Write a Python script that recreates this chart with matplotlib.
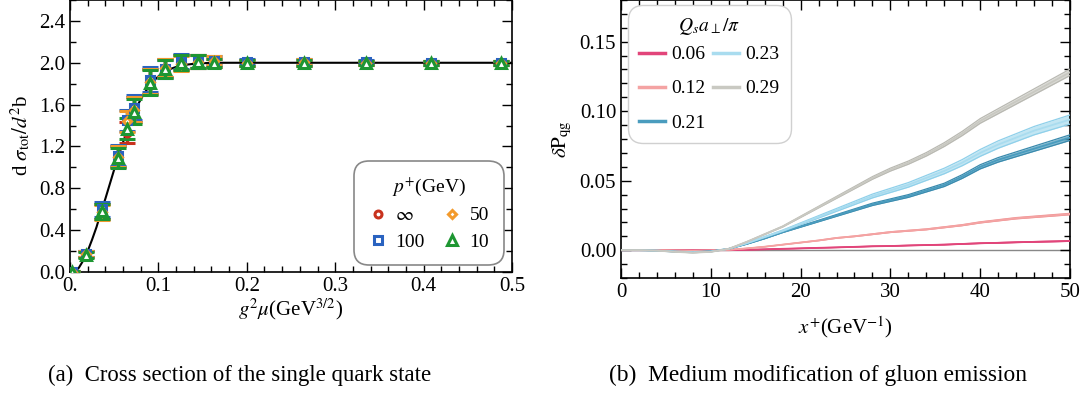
import numpy as np
import matplotlib
matplotlib.use("Agg")
import matplotlib.pyplot as plt
from matplotlib.ticker import MultipleLocator, FixedFormatter, FixedLocator

plt.rcParams["font.family"] = "serif"
plt.rcParams["font.serif"] = ["Liberation Serif", "DejaVu Serif"]
plt.rcParams["mathtext.fontset"] = "stix"
plt.rcParams["font.size"] = 15

# ---- panel (a): cross section vs g^2 mu ----
g2mu = [0.002, 0.018, 0.036, 0.054, 0.065, 0.072, 0.090, 0.108, 0.126, 0.145,
        0.163, 0.200, 0.265, 0.335, 0.408, 0.487]
sig_inf = [0.00, 0.17, 0.58, 1.10, 1.33, 1.55, 1.82, 1.95, 2.00, 2.01, 2.00, 2.00, 2.00, 2.00, 2.00, 2.00]
sig_100 = [0.00, 0.17, 0.60, 1.11, 1.45, 1.57, 1.84, 1.94, 2.01, 2.01, 2.02, 2.01, 2.01, 2.01, 2.00, 2.00]
sig_50 = [0.00, 0.17, 0.57, 1.10, 1.44, 1.55, 1.82, 1.95, 1.99, 2.01, 2.02, 2.00, 2.01, 2.00, 2.00, 2.00]
sig_10 = [0.00, 0.16, 0.58, 1.09, 1.37, 1.53, 1.81, 1.94, 2.00, 2.01, 2.00, 2.00, 2.00, 2.00, 2.00, 2.00]
sig_err = [0.01, 0.03, 0.07, 0.10, 0.10, 0.12, 0.12, 0.09, 0.07, 0.06, 0.04, 0.03, 0.03, 0.02, 0.02, 0.02]

curve_x = [0.005, 0.01, 0.015, 0.02, 0.025, 0.03, 0.035, 0.04, 0.045, 0.05, 0.055, 0.06,
           0.065, 0.07, 0.075, 0.08, 0.085, 0.09, 0.095, 0.10, 0.11, 0.12, 0.13, 0.14,
           0.15, 0.16, 0.18, 0.20, 0.30, 0.40, 0.50]
curve_y = [0.00, 0.04, 0.11, 0.20, 0.31, 0.43, 0.57, 0.70, 0.84, 0.98, 1.11, 1.24,
           1.36, 1.47, 1.57, 1.65, 1.72, 1.78, 1.83, 1.87, 1.93, 1.96, 1.98, 1.99,
           1.995, 2.00, 2.00, 2.00, 2.00, 2.00, 2.00]

p_labels = [r"$\infty$", "100", "50", "10"]
p_series = [sig_inf, sig_100, sig_50, sig_10]
p_colors = ["#c8321e", "#2a63c0", "#f39a2c", "#1e9632"]
p_markers = ["o", "s", "D", "^"]
p_msize = [5, 5.5, 4.5, 7]

# ---- panel (b): delta P_qg vs x+ ----
xplus = [0, 2, 4, 6, 8, 10, 12, 14, 16, 18, 20, 22, 24, 26, 28, 30, 32, 34, 36, 38,
         40, 42, 44, 46, 48, 50]
dp_006 = [0, 0, 0, 0, 0, 0, 0, 0.0003, 0.0006, 0.001, 0.0013, 0.0017, 0.002, 0.0024,
          0.0028, 0.003, 0.0034, 0.0037, 0.004, 0.0045, 0.005, 0.0053, 0.0057, 0.006,
          0.0063, 0.0066]
dp_012 = [0, 0, 0, -0.0002, -0.0003, -0.0002, 0.0003, 0.0013, 0.0025, 0.004, 0.0055,
          0.007, 0.0088, 0.010, 0.0115, 0.013, 0.014, 0.015, 0.0165, 0.018, 0.020,
          0.0215, 0.023, 0.024, 0.025, 0.026]
dp_021 = [0, 0, -0.0003, -0.001, -0.0013, -0.0008, 0.001, 0.0045, 0.0085, 0.013, 0.017,
          0.021, 0.025, 0.029, 0.033, 0.036, 0.039, 0.043, 0.047, 0.053, 0.060, 0.065,
          0.069, 0.073, 0.077, 0.081]
dp_023 = [0, 0, -0.0003, -0.001, -0.0015, -0.001, 0.001, 0.005, 0.0095, 0.014, 0.019,
          0.024, 0.029, 0.034, 0.039, 0.043, 0.047, 0.052, 0.057, 0.063, 0.070, 0.076,
          0.081, 0.086, 0.090, 0.094]
dp_029 = [0, 0, -0.0003, -0.0012, -0.0018, -0.0012, 0.001, 0.006, 0.0115, 0.017, 0.024,
          0.031, 0.038, 0.045, 0.052, 0.058, 0.063, 0.069, 0.076, 0.084, 0.093, 0.100,
          0.107, 0.114, 0.121, 0.128]

q_labels = ["0.06", "0.12", "0.21", "0.23", "0.29"]
q_series = [dp_006, dp_012, dp_021, dp_023, dp_029]
q_colors = ["#e2457a", "#f4a3a3", "#4a9cbe", "#a9dcef", "#c9c9c2"]
q_edge = ["#d83a70", "#ef9494", "#3a8aad", "#8fd0ea", "#b9b9b2"]
q_spread = [0.03, 0.02, 0.025, 0.035, 0.018]

fig = plt.figure(figsize=(10.89, 3.94), dpi=100)
ax1 = fig.add_axes([70 / 1089, 1 - 272 / 394, 442 / 1089, 272 / 394])
ax2 = fig.add_axes([621 / 1089, 1 - 278 / 394, 449 / 1089, 278 / 394])

ax1.plot(curve_x, curve_y, color="black", lw=1.5, zorder=2)
for lab, ys, c, m, ms in zip(p_labels, p_series, p_colors, p_markers, p_msize):
    ax1.errorbar(g2mu, ys, yerr=sig_err, fmt=m, color=c, ms=ms, mfc="white", mec=c,
                 mew=2.2, elinewidth=2.5, capsize=6, capthick=2.5, label=lab, zorder=3)

ax1.set_xlim(0, 0.5)
ax1.set_ylim(0, 2.6)
ax1.xaxis.set_major_locator(FixedLocator([0, 0.1, 0.2, 0.3, 0.4, 0.5]))
ax1.xaxis.set_major_formatter(FixedFormatter(["0.", "0.1", "0.2", "0.3", "0.4", "0.5"]))
ax1.xaxis.set_minor_locator(MultipleLocator(0.02))
ax1.yaxis.set_major_locator(MultipleLocator(0.4))
ax1.yaxis.set_major_formatter(plt.FormatStrFormatter("%.1f"))
ax1.yaxis.set_minor_locator(MultipleLocator(0.2))
ax1.set_xlabel(r"$g^2\mu$(GeV$^{3/2}$)", fontsize=15, labelpad=0)
ax1.set_ylabel(r"d $\sigma_{\rm tot}/d^2$b", fontsize=15)

h, l = ax1.get_legend_handles_labels()
leg1 = ax1.legend([hh[0] for hh in h], l, ncol=2, title=r"$p^{+}$(GeV)",
                  loc="lower right", bbox_to_anchor=(0.99, 0.01), handletextpad=0.4,
                  columnspacing=0.9, borderpad=0.45, labelspacing=0.45, handlelength=1.0,
                  fontsize=14, title_fontsize=14, framealpha=1, edgecolor="#888888")
leg1.get_frame().set_linewidth(1.2)
leg1.get_frame().set_boxstyle("round,pad=0.3,rounding_size=0.8")

# panel b
ax2.axhline(0, color="#888888", lw=1.0, zorder=1)
for lab, ys, c, ec, s in zip(q_labels, q_series, q_colors, q_edge, q_spread):
    ys = np.array(ys)
    lo = ys * (1 - s)
    hi = ys * (1 + s)
    ax2.fill_between(xplus, lo, hi, color=c, lw=0, alpha=0.7, zorder=2)
    ax2.plot(xplus, lo, color=ec, lw=0.9, zorder=3)
    ax2.plot(xplus, hi, color=ec, lw=0.9, zorder=3)
    ax2.plot(xplus, ys, color=c, lw=1.3, label=lab, zorder=3)

ax2.set_xlim(0, 50)
ax2.set_ylim(-0.02, 0.18)
ax2.xaxis.set_major_locator(MultipleLocator(10))
ax2.xaxis.set_minor_locator(MultipleLocator(2))
ax2.yaxis.set_major_locator(FixedLocator([0, 0.05, 0.10, 0.15]))
ax2.yaxis.set_major_formatter(plt.FormatStrFormatter("%.2f"))
ax2.yaxis.set_minor_locator(MultipleLocator(0.01))
ax2.set_xlabel(r"$x^{+}$(GeV$^{-1}$)", fontsize=15, labelpad=9)
ax2.set_ylabel(r"$\delta\mathrm{P}_{\mathrm{qg}}$", fontsize=15)

handles = [plt.Line2D([], [], color=c, lw=2.5) for c in q_colors]
leg2 = ax2.legend(handles, q_labels, ncol=2, title=r"$Q_s a_{\perp}/\pi$",
                  loc="upper left", bbox_to_anchor=(0.006, 0.997), handlelength=1.3,
                  handletextpad=0.35, columnspacing=0.4, borderpad=0.3, labelspacing=0.85,
                  fontsize=14, title_fontsize=14, framealpha=1, edgecolor="#d0d0d0")
leg2.get_frame().set_boxstyle("round,pad=0.3,rounding_size=0.8")
leg2._legend_box.sep = 6

for ax in (ax1, ax2):
    ax.tick_params(which="both", direction="in", top=True, right=True, labelsize=15, width=1.0)
    ax.tick_params(which="major", length=7)
    ax.tick_params(which="minor", length=4)
    for sp in ax.spines.values():
        sp.set_linewidth(1.2)

fig.text(240 / 1089, 19 / 394, "(a)  Cross section of the single quark state",
         ha="center", va="center", fontsize=16.4)
fig.text(818 / 1089, 19 / 394, "(b)  Medium modification of gluon emission",
         ha="center", va="center", fontsize=16.8)

fig.savefig("out.png", dpi=100)
